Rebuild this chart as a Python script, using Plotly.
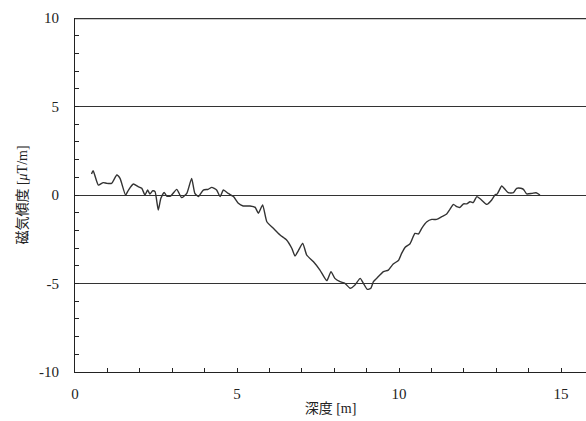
import plotly.graph_objects as go

depth = [0.51, 0.56, 0.72, 0.87, 0.98, 1.13, 1.29, 1.39, 1.56, 1.65, 1.80, 1.95, 2.06, 2.16, 2.24,
         2.31, 2.40, 2.47, 2.57, 2.65, 2.75, 2.83, 2.95, 3.14, 3.29, 3.45, 3.60, 3.70, 3.81, 3.96,
         4.11, 4.22, 4.37, 4.48, 4.58, 4.73, 4.89, 5.04, 5.19, 5.40, 5.56, 5.66, 5.79, 5.92, 6.12,
         6.33, 6.53, 6.69, 6.79, 6.89, 7.03, 7.15, 7.36, 7.56, 7.77, 7.90, 8.02, 8.18, 8.33, 8.49,
         8.64, 8.80, 8.90, 9.02, 9.13, 9.21, 9.31, 9.52, 9.67, 9.82, 9.98, 10.08, 10.19, 10.34,
         10.49, 10.60, 10.70, 10.86, 11.01, 11.16, 11.32, 11.47, 11.57, 11.68, 11.78, 11.88, 11.99,
         12.09, 12.19, 12.29, 12.40, 12.52, 12.71, 12.86, 12.96, 13.03, 13.17, 13.27, 13.37, 13.53,
         13.63, 13.76, 13.84, 13.94, 14.10, 14.23, 14.35]
gradient = [1.19, 1.37, 0.56, 0.70, 0.66, 0.66, 1.13, 0.94, 0.00, 0.28, 0.62, 0.47, 0.38, 0.00, 0.28,
            0.06, 0.24, 0.19, -0.85, -0.19, 0.15, -0.06, -0.06, 0.32, -0.15, 0.09, 0.94, 0.09, -0.09, 0.28,
            0.32, 0.43, 0.28, -0.09, 0.28, 0.09, -0.09, -0.47, -0.62, -0.62, -0.70, -1.03, -0.56, -1.51, -1.88,
            -2.26, -2.54, -3.01, -3.45, -3.15, -2.73, -3.39, -3.77, -4.24, -4.84, -4.33, -4.71, -4.90, -4.99, -5.27,
            -5.08, -4.71, -4.99, -5.33, -5.27, -4.90, -4.71, -4.33, -4.24, -3.90, -3.70, -3.30, -2.95, -2.75,
            -2.17, -2.20, -1.88, -1.51, -1.38, -1.38, -1.22, -1.07, -0.81, -0.53, -0.66, -0.70, -0.50,
            -0.50, -0.38, -0.43, -0.09, -0.24, -0.53, -0.28, 0.00, 0.06, 0.51, 0.32, 0.13, 0.13,
            0.38, 0.38, 0.32, 0.06, 0.09, 0.13, 0.00]

x_ticks = [0, 5, 10, 15]
y_ticks = [-10, -5, 0, 5, 10]
y_ticktext = ["-10", "-5", "0", "5", "10"]

font_main = "Liberation Serif, Noto Sans CJK JP"

fig = go.Figure()
fig.add_trace(go.Scatter(x=depth, y=gradient, mode="lines",
                         line=dict(color="#333333", width=1.4, shape="spline", smoothing=0.5),
                         showlegend=False))

# top frame line
fig.add_shape(type="line", xref="x domain", x0=0, x1=1, yref="y domain", y0=0.998, y1=0.998,
              line=dict(color="#333333", width=1.3), layer="above")

fig.update_layout(
    width=586, height=421,
    margin=dict(l=75, r=0, t=18, b=49),
    paper_bgcolor="white", plot_bgcolor="white",
    font=dict(family=font_main, size=15, color="#222222"),
)
fig.update_xaxes(
    range=[0, 15.77], tickvals=x_ticks, showgrid=False, zeroline=False,
    showline=True, linecolor="#222222", linewidth=1.2,
    ticks="inside", ticklen=4, tickcolor="#222222",
    minor=dict(dtick=1, ticks="inside", ticklen=4, tickcolor="#222222", showgrid=False),
    title=dict(text="深度 [m]", standoff=2, font=dict(size=14)),
    ticklabelstandoff=8,
)
fig.update_yaxes(
    range=[-10, 10], tickvals=y_ticks, ticktext=y_ticktext,
    showgrid=True, gridcolor="#333333", gridwidth=1.2,
    zeroline=False, showline=True, linecolor="#222222", linewidth=1.2,
    ticks="inside", ticklen=4, tickcolor="#222222",
    minor=dict(dtick=1, ticks="inside", ticklen=4, tickcolor="#222222", showgrid=False),
    title=dict(text="磁気傾度 [<i>μ</i>T/m]", standoff=8, font=dict(size=14)),
    ticklabelstandoff=12,
)

fig.write_html("out.html")
